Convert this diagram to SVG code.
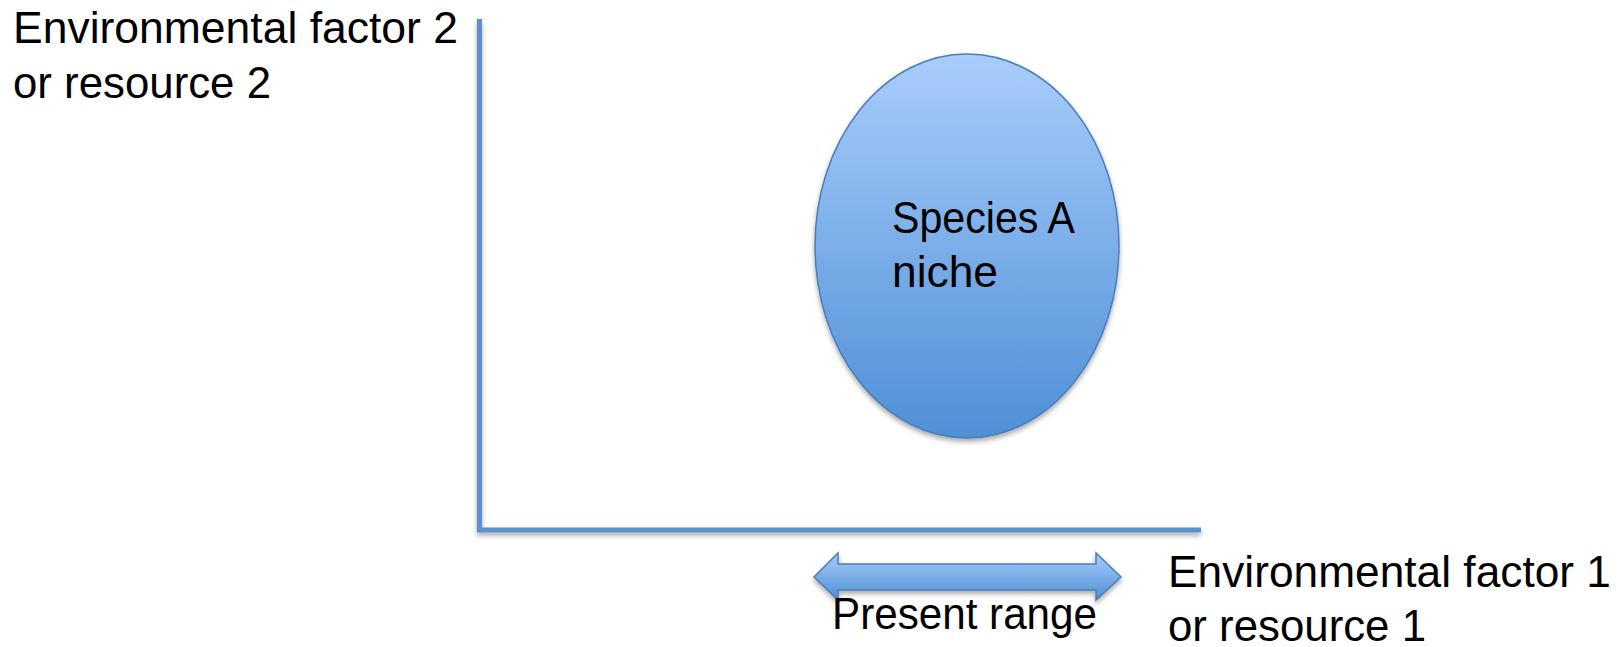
<svg xmlns="http://www.w3.org/2000/svg" width="1621" height="647" viewBox="0 0 1621 647">
<style>
text{font-family:"Liberation Sans",Arial,sans-serif;font-size:44px;fill:#000}
.axis{stroke:#5b8fcc;stroke-width:5;fill:none}
</style>
<defs>
<linearGradient id="g" x1="0" y1="0" x2="0" y2="1">
<stop offset="0" stop-color="#a8cdfb"/>
<stop offset="1" stop-color="#4f8fd6"/>
</linearGradient>
<filter id="sh" x="-10%" y="-10%" width="130%" height="140%">
<feGaussianBlur in="SourceAlpha" stdDeviation="2.5"/>
<feOffset dx="0" dy="3" result="b"/>
<feComponentTransfer><feFuncA type="linear" slope="0.35"/></feComponentTransfer>
<feMerge><feMergeNode/><feMergeNode in="SourceGraphic"/></feMerge>
</filter>
</defs>
<rect width="1621" height="647" fill="#fff"/>
<g id="axes" filter="url(#sh)">
<path class="axis" d="M479.5 19 V530 H1201"/>
</g>
<g id="label-y">
<text x="13" y="43" textLength="445" lengthAdjust="spacingAndGlyphs">Environmental factor 2</text>
<text x="13" y="98" textLength="258" lengthAdjust="spacingAndGlyphs">or resource 2</text>
</g>
<g id="niche">
<ellipse cx="967" cy="246" rx="152" ry="192" fill="url(#g)" stroke="#4a7ebb" stroke-width="1.5" filter="url(#sh)"/>
<text x="892" y="233" textLength="183" lengthAdjust="spacingAndGlyphs">Species A</text>
<text x="892" y="287" textLength="106" lengthAdjust="spacingAndGlyphs">niche</text>
</g>
<g id="range">
<path d="M814 577 L838 553 V564 H1096 V553 L1121 577 L1096 600 V590 H838 V600 Z" fill="url(#g)" stroke="#4a7ebb" stroke-width="1.5" filter="url(#sh)"/>
<text x="832" y="629" textLength="265" lengthAdjust="spacingAndGlyphs">Present range</text>
</g>
<g id="label-x">
<text x="1168" y="587" textLength="443" lengthAdjust="spacingAndGlyphs">Environmental factor 1</text>
<text x="1168" y="641" textLength="258" lengthAdjust="spacingAndGlyphs">or resource 1</text>
</g>
</svg>
